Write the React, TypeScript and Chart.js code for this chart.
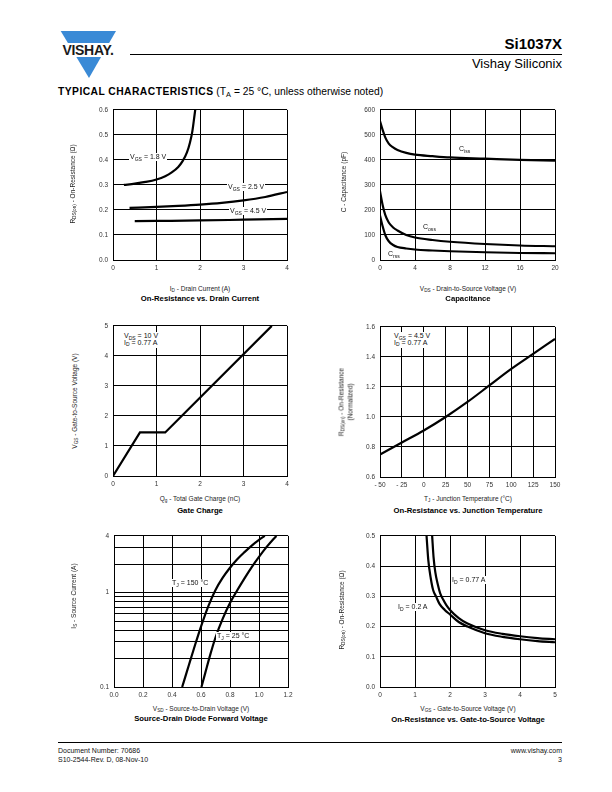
import React, { useEffect, useRef } from 'react';
import { Chart, registerables } from 'chart.js';

Chart.register(...registerables);

const FONT = '"Liberation Sans", Arial, Helvetica, sans-serif';

// ---------- Chart 1: On-Resistance vs. Drain Current ----------
const c1XTicks = [0, 1, 2, 3, 4];
const c1YTicks = [0, 0.1, 0.2, 0.3, 0.4, 0.5, 0.6];
const c1Vgs18Id = [0.25, 0.5, 0.75, 1.0, 1.2, 1.35, 1.5, 1.6, 1.7, 1.77, 1.82, 1.86, 1.89];
const c1Vgs18R = [0.300, 0.305, 0.312, 0.322, 0.335, 0.35, 0.372, 0.395, 0.43, 0.47, 0.51, 0.56, 0.60];
const c1Vgs25Id = [0.38, 1, 1.5, 2, 2.5, 3, 3.5, 4];
const c1Vgs25R = [0.208, 0.212, 0.216, 0.221, 0.228, 0.238, 0.252, 0.272];
const c1Vgs45Id = [0.5, 1, 2, 3, 4];
const c1Vgs45R = [0.155, 0.156, 0.158, 0.161, 0.164];

// ---------- Chart 2: Capacitance ----------
const c2XTicks = [0, 4, 8, 12, 16, 20];
const c2YTicks = [0, 100, 200, 300, 400, 500, 600];
const c2Vds = [0, 0.3, 0.6, 1, 1.5, 2, 3, 4, 6, 8, 12, 16, 20];
const c2Ciss = [555, 520, 490, 465, 450, 440, 428, 421, 415, 410, 405, 400, 397];
const c2Coss = [275, 220, 180, 150, 130, 118, 100, 90, 80, 73, 64, 58, 55];
const c2Crss = [178, 135, 100, 75, 60, 52, 46, 42, 38, 35, 31, 28, 27];

// ---------- Chart 3: Gate Charge ----------
const c3XTicks = [0, 1, 2, 3, 4];
const c3YTicks = [0, 1, 2, 3, 4, 5];
const c3Qg = [0, 0.62, 1.2, 3.65];
const c3Vgs = [0, 1.45, 1.45, 5];

// ---------- Chart 4: On-Resistance vs. Junction Temperature ----------
const c4XTicks = [-50, -25, 0, 25, 50, 75, 100, 125, 150];
const c4YTicks = [0.6, 0.8, 1.0, 1.2, 1.4, 1.6];
const c4Tj = [-50, -25, 0, 25, 50, 75, 100, 125, 150];
const c4R = [0.75, 0.83, 0.91, 1.0, 1.1, 1.21, 1.32, 1.42, 1.52];

// ---------- Chart 5: Source-Drain Diode Forward Voltage ----------
const c5XTicks = [0, 0.2, 0.4, 0.6, 0.8, 1.0, 1.2];
const c5YTicks = [0.1, 0.2, 0.3, 0.4, 0.5, 0.6, 0.7, 0.8, 0.9, 1, 2, 3, 4];
const c5YLabeled = [0.1, 1, 4];
const c5Vsd150 = [0.47, 0.50, 0.53, 0.56, 0.60, 0.65, 0.70, 0.75, 0.80, 0.85, 0.90, 0.95, 1.00, 1.04];
const c5Is150 = [0.1, 0.141, 0.2, 0.282, 0.437, 0.716, 1.07, 1.445, 1.84, 2.26, 2.69, 3.16, 3.63, 4.0];
const c5Vsd25 = [0.603, 0.63, 0.66, 0.70, 0.75, 0.80, 0.85, 0.90, 0.95, 1.00, 1.05, 1.10, 1.12];
const c5Is25 = [0.1, 0.142, 0.21, 0.335, 0.53, 0.775, 1.06, 1.42, 1.87, 2.4, 3.02, 3.715, 4.0];

// ---------- Chart 6: On-Resistance vs. Gate-to-Source Voltage ----------
const c6XTicks = [0, 1, 2, 3, 4, 5];
const c6YTicks = [0, 0.1, 0.2, 0.3, 0.4, 0.5];
const c6Vgs02 = [1.33, 1.38, 1.45, 1.52, 1.60, 1.70, 1.85, 2.0, 2.25, 2.5, 3.0, 3.5, 4.0, 4.5, 5.0];
const c6R02 = [0.5, 0.42, 0.36, 0.32, 0.30, 0.275, 0.255, 0.24, 0.215, 0.200, 0.178, 0.166, 0.158, 0.152, 0.148];
const c6Vgs077 = [1.49, 1.53, 1.58, 1.65, 1.72, 1.80, 1.9, 2.0, 2.25, 2.5, 3.0, 3.5, 4.0, 4.5, 5.0];
const c6R077 = [0.5, 0.43, 0.38, 0.34, 0.31, 0.29, 0.27, 0.255, 0.228, 0.21, 0.188, 0.176, 0.168, 0.162, 0.158];

// ---------- layout constants ----------
const YW = 30;
const PT = 8;
const PR = 12;
const XH = 16;

type Line = { xs: number[]; ys: number[]; straight?: boolean };
type PlotProps = {
  left: number;
  top: number;
  w: number;
  h: number;
  lines: Line[];
  xTicks: number[];
  yTicks: number[];
  xFmt: (v: number) => string;
  yFmt: (v: number) => string;
  yLog?: boolean;
};

function Plot(p: PlotProps) {
  const ref = useRef<HTMLCanvasElement>(null);
  const cw = YW + p.w + PR;
  const ch = PT + p.h + XH;
  useEffect(() => {
    const grid = { color: '#000', lineWidth: 1, drawTicks: false };
    const border = { color: '#000', width: 1 };
    const tickFont = { family: FONT, size: 6.5 };
    const chart = new Chart(ref.current as HTMLCanvasElement, {
      type: 'line',
      data: {
        datasets: p.lines.map((l) => ({
          data: l.xs.map((x, i) => ({ x, y: l.ys[i] })),
          borderColor: '#000',
          borderWidth: 2.2,
          pointRadius: 0,
          fill: false,
          tension: l.straight ? 0 : 0.4,
          cubicInterpolationMode: l.straight ? 'default' : 'monotone',
        })),
      },
      options: {
        responsive: false,
        maintainAspectRatio: false,
        animation: false,
        events: [],
        layout: { padding: { left: 0, top: PT, right: PR, bottom: 0 } },
        plugins: {
          legend: { display: false },
          tooltip: { enabled: false },
          title: { display: false },
        },
        scales: {
          x: {
            type: 'linear',
            min: p.xTicks[0],
            max: p.xTicks[p.xTicks.length - 1],
            afterBuildTicks: (s: any) => {
              s.ticks = p.xTicks.map((v) => ({ value: v }));
            },
            afterFit: (s: any) => {
              s.height = XH;
            },
            grid,
            border,
            ticks: {
              callback: (v: any) => p.xFmt(Number(v)),
              font: tickFont,
              color: '#333',
              padding: 4,
              autoSkip: false,
              maxRotation: 0,
              minRotation: 0,
            },
          },
          y: {
            type: p.yLog ? 'logarithmic' : 'linear',
            min: p.yTicks[0],
            max: p.yTicks[p.yTicks.length - 1],
            afterBuildTicks: (s: any) => {
              s.ticks = p.yTicks.map((v) => ({ value: v }));
            },
            afterFit: (s: any) => {
              s.width = YW;
            },
            grid,
            border,
            ticks: {
              callback: (v: any) => p.yFmt(Number(v)),
              font: tickFont,
              color: '#333',
              padding: 5,
              autoSkip: false,
            },
          },
        },
      } as any,
    } as any);
    return () => chart.destroy();
  }, []);
  return (
    <canvas
      ref={ref}
      width={cw}
      height={ch}
      style={{ position: 'absolute', left: p.left - YW, top: p.top - PT, width: cw, height: ch }}
    />
  );
}

const S = ({ children }: { children: React.ReactNode }) => (
  <span style={{ fontSize: '0.72em', position: 'relative', top: '0.3em', lineHeight: 0 }}>{children}</span>
);

function XTitle({ cx, cy, children, bold }: { cx: number; cy: number; children: React.ReactNode; bold?: boolean }) {
  return (
    <div
      style={{
        position: 'absolute',
        left: cx,
        top: cy,
        transform: 'translate(-50%, -50%)',
        whiteSpace: 'nowrap',
        fontSize: bold ? 7.7 : 6.5,
        fontWeight: bold ? 'bold' : 'normal',
        lineHeight: '9px',
        color: bold ? '#000' : '#222',
      }}
    >
      {children}
    </div>
  );
}

function YTitle({ cx, cy, children }: { cx: number; cy: number; children: React.ReactNode }) {
  return (
    <div
      style={{
        position: 'absolute',
        left: cx,
        top: cy,
        transform: 'translate(-50%, -50%) rotate(-90deg)',
        whiteSpace: 'nowrap',
        fontSize: 6.5,
        lineHeight: '8.5px',
        textAlign: 'center',
        color: '#222',
      }}
    >
      {children}
    </div>
  );
}

function Lbl({ x, y, children }: { x: number; y: number; children: React.ReactNode }) {
  return (
    <div
      style={{
        position: 'absolute',
        left: x,
        top: y,
        transform: 'translateY(-50%)',
        background: '#fff',
        padding: '0 1px',
        fontSize: 7,
        lineHeight: '8px',
        whiteSpace: 'nowrap',
        color: '#111',
      }}
    >
      {children}
    </div>
  );
}

function Box({ x, y, lines }: { x: number; y: number; lines: React.ReactNode[] }) {
  return (
    <div
      style={{
        position: 'absolute',
        left: x,
        top: y,
        background: '#fff',
        padding: '1px 2px',
        fontSize: 7,
        lineHeight: '6.8px',
        whiteSpace: 'nowrap',
        color: '#111',
      }}
    >
      {lines.map((l, i) => (
        <div key={i}>{l}</div>
      ))}
    </div>
  );
}

const f1 = (v: number) => v.toFixed(1);
const f0 = (v: number) => String(Math.round(v));
const fTemp = (v: number) => (v < 0 ? '- ' + Math.abs(v) : String(v));
const fLog = (v: number) => (c5YLabeled.some((t) => Math.abs(t - v) < 1e-9) ? String(v) : '');

export default function App() {
  return (
    <div
      style={{
        position: 'absolute',
        left: 0,
        top: 0,
        width: 612,
        height: 792,
        background: '#fff',
        fontFamily: FONT,
        color: '#000',
        overflow: 'hidden',
      }}
    >
      {/* Logo */}
      <svg style={{ position: 'absolute', left: 56, top: 29 }} width={66} height={52}>
        <polygon points="4.7,2 60,2 33,49" fill="#3a8ad6" />
        <rect x={0} y={14} width={66} height={14} fill="#fff" />
        <text
          x={32}
          y={25.7}
          textAnchor="middle"
          fontFamily={FONT}
          fontWeight="bold"
          fontSize={14}
          fill="#1a1a1a"
          letterSpacing={-0.3}
        >
          VISHAY.
        </text>
      </svg>

      {/* Header */}
      <div style={{ position: 'absolute', right: 50, top: 36, fontSize: 15, fontWeight: 'bold', lineHeight: '15px' }}>
        Si1037X
      </div>
      <div style={{ position: 'absolute', left: 130, top: 54, width: 432, height: 1, background: '#000' }} />
      <div style={{ position: 'absolute', right: 50, top: 57, fontSize: 13, lineHeight: '13px' }}>Vishay Siliconix</div>
      <div style={{ position: 'absolute', left: 58, top: 86, fontSize: 10.3, lineHeight: '11px', whiteSpace: 'nowrap' }}>
        <span style={{ fontWeight: 'bold', letterSpacing: 0.45 }}>TYPICAL CHARACTERISTICS</span>{' '}
        <span>
          (T<S>A</S> = 25 °C, unless otherwise noted)
        </span>
      </div>

      {/* Chart 1 */}
      <Plot
        left={113}
        top={109}
        w={174}
        h={151}
        xTicks={c1XTicks}
        yTicks={c1YTicks}
        xFmt={f0}
        yFmt={f1}
        lines={[
          { xs: c1Vgs18Id, ys: c1Vgs18R },
          { xs: c1Vgs25Id, ys: c1Vgs25R },
          { xs: c1Vgs45Id, ys: c1Vgs45R },
        ]}
      />
      <Lbl x={129} y={157}>
        V<S>GS</S> = 1.8 V
      </Lbl>
      <Lbl x={227} y={187}>
        V<S>GS</S> = 2.5 V
      </Lbl>
      <Lbl x={229} y={211}>
        V<S>GS</S> = 4.5 V
      </Lbl>
      <YTitle cx={73} cy={184}>
        R<S>DS(on)</S> - On-Resistance (Ω)
      </YTitle>
      <XTitle cx={200} cy={288}>
        I<S>D</S> - Drain Current (A)
      </XTitle>
      <XTitle cx={200} cy={298} bold>
        On-Resistance vs. Drain Current
      </XTitle>

      {/* Chart 2 */}
      <Plot
        left={380}
        top={109}
        w={175}
        h={151}
        xTicks={c2XTicks}
        yTicks={c2YTicks}
        xFmt={f0}
        yFmt={f0}
        lines={[
          { xs: c2Vds, ys: c2Ciss },
          { xs: c2Vds, ys: c2Coss },
          { xs: c2Vds, ys: c2Crss },
        ]}
      />
      <Lbl x={458} y={149}>
        C<S>iss</S>
      </Lbl>
      <Lbl x={422} y={227}>
        C<S>oss</S>
      </Lbl>
      <Lbl x={387} y={254}>
        C<S>rss</S>
      </Lbl>
      <YTitle cx={344} cy={182}>
        C - Capacitance (pF)
      </YTitle>
      <XTitle cx={468} cy={288}>
        V<S>DS</S> - Drain-to-Source Voltage (V)
      </XTitle>
      <XTitle cx={468} cy={298} bold>
        Capacitance
      </XTitle>

      {/* Chart 3 */}
      <Plot
        left={113}
        top={325}
        w={174}
        h={151}
        xTicks={c3XTicks}
        yTicks={c3YTicks}
        xFmt={f0}
        yFmt={f0}
        lines={[{ xs: c3Qg, ys: c3Vgs, straight: true }]}
      />
      <Box
        x={122}
        y={332}
        lines={[
          <span>
            V<S>DS</S> = 10 V
          </span>,
          <span>
            I<S>D</S> = 0.77 A
          </span>,
        ]}
      />
      <YTitle cx={75} cy={401}>
        V<S>GS</S> - Gate-to-Source Voltage (V)
      </YTitle>
      <XTitle cx={200} cy={497.5}>
        Q<S>g</S> - Total Gate Charge (nC)
      </XTitle>
      <XTitle cx={200} cy={510} bold>
        Gate Charge
      </XTitle>

      {/* Chart 4 */}
      <Plot
        left={380}
        top={326}
        w={175}
        h={151}
        xTicks={c4XTicks}
        yTicks={c4YTicks}
        xFmt={fTemp}
        yFmt={f1}
        lines={[{ xs: c4Tj, ys: c4R }]}
      />
      <Box
        x={392}
        y={332}
        lines={[
          <span>
            V<S>GS</S> = 4.5 V
          </span>,
          <span>
            I<S>D</S> = 0.77 A
          </span>,
        ]}
      />
      <YTitle cx={346} cy={402}>
        <div>
          R<S>DS(on)</S> - On-Resistance
        </div>
        <div>(Normalized)</div>
      </YTitle>
      <XTitle cx={468} cy={497.5}>
        T<S>J</S> - Junction Temperature (°C)
      </XTitle>
      <XTitle cx={468} cy={510} bold>
        On-Resistance vs. Junction Temperature
      </XTitle>

      {/* Chart 5 */}
      <Plot
        left={114}
        top={535}
        w={174}
        h={152}
        xTicks={c5XTicks}
        yTicks={c5YTicks}
        xFmt={f1}
        yFmt={fLog}
        yLog
        lines={[
          { xs: c5Vsd150, ys: c5Is150 },
          { xs: c5Vsd25, ys: c5Is25 },
        ]}
      />
      <Lbl x={171} y={583}>
        T<S>J</S> = 150 °C
      </Lbl>
      <Lbl x={216} y={636}>
        T<S>J</S> = 25 °C
      </Lbl>
      <YTitle cx={74} cy={596}>
        I<S>S</S> - Source Current (A)
      </YTitle>
      <XTitle cx={201} cy={707.5}>
        V<S>SD</S> - Source-to-Drain Voltage (V)
      </XTitle>
      <XTitle cx={201} cy={718} bold>
        Source-Drain Diode Forward Voltage
      </XTitle>

      {/* Chart 6 */}
      <Plot
        left={380}
        top={535}
        w={175}
        h={152}
        xTicks={c6XTicks}
        yTicks={c6YTicks}
        xFmt={f0}
        yFmt={f1}
        lines={[
          { xs: c6Vgs02, ys: c6R02 },
          { xs: c6Vgs077, ys: c6R077 },
        ]}
      />
      <Lbl x={451} y={580}>
        I<S>D</S> = 0.77 A
      </Lbl>
      <Lbl x={397} y={607}>
        I<S>D</S> = 0.2 A
      </Lbl>
      <YTitle cx={342} cy={610}>
        R<S>DS(on)</S> - On-Resistance (Ω)
      </YTitle>
      <XTitle cx={468} cy={707.5}>
        V<S>GS</S> - Gate-to-Source Voltage (V)
      </XTitle>
      <XTitle cx={468} cy={719} bold>
        On-Resistance vs. Gate-to-Source Voltage
      </XTitle>

      {/* Footer */}
      <div style={{ position: 'absolute', left: 58, top: 742, width: 504, height: 1, background: '#000' }} />
      <div style={{ position: 'absolute', left: 58, top: 746, fontSize: 7, lineHeight: '9px', color: '#111' }}>
        <div>Document Number: 70686</div>
        <div>S10-2544-Rev. D, 08-Nov-10</div>
      </div>
      <div
        style={{
          position: 'absolute',
          right: 50,
          top: 746,
          fontSize: 7,
          lineHeight: '9px',
          textAlign: 'right',
          color: '#111',
        }}
      >
        <div>www.vishay.com</div>
        <div>3</div>
      </div>
    </div>
  );
}
